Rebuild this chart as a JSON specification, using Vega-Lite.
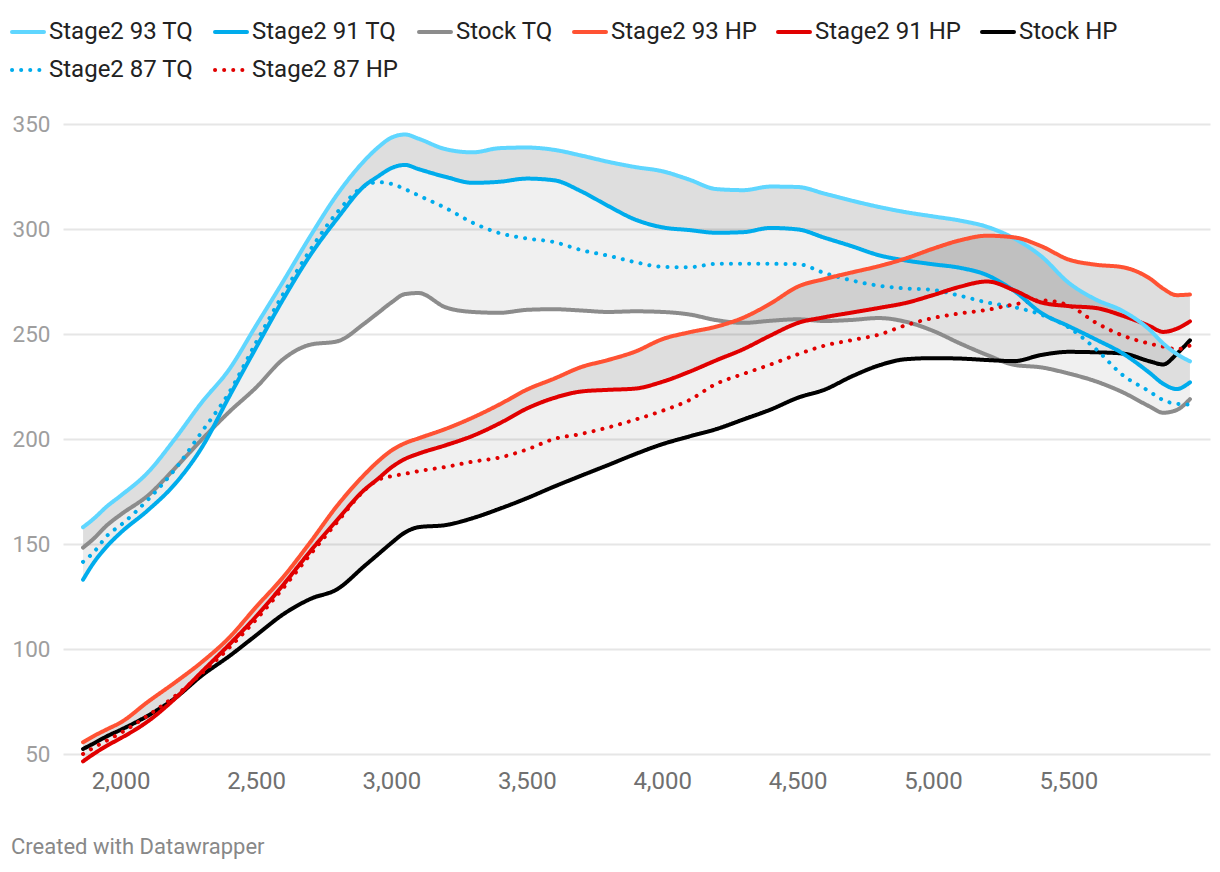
{
  "$schema": "https://vega.github.io/schema/vega-lite/v6.json",
  "width": 1147,
  "height": 630,
  "autosize": {"type": "none"},
  "padding": {"left": 63, "top": 124, "right": 10, "bottom": 118},
  "background": "white",
  "config": {"view": {"stroke": null}, "font": "Roboto"},
  "title": {"text": "Created with Datawrapper", "orient": "bottom", "anchor": "start", "frame": "group", "dx": -52, "offset": 44, "fontSize": 22, "fontWeight": "normal", "color": "#888888", "font": "Roboto"},
  "data": {"values": [
    {"rpm": 1861, "Stage2 93 TQ": 158, "Stage2 91 TQ": 133, "Stage2 87 TQ": 141.5, "Stock TQ": 148.3, "Stage2 93 HP": 55.6, "Stage2 91 HP": 46.5, "Stage2 87 HP": 50, "Stock HP": 52.4},
    {"rpm": 1900, "Stage2 93 TQ": 162, "Stage2 91 TQ": 141, "Stage2 87 TQ": 146, "Stock TQ": 152.5, "Stage2 93 HP": 58.5, "Stage2 91 HP": 50, "Stage2 87 HP": 53, "Stock HP": 55},
    {"rpm": 1950, "Stage2 93 TQ": 168, "Stage2 91 TQ": 149, "Stage2 87 TQ": 154, "Stock TQ": 159, "Stage2 93 HP": 61.8, "Stage2 91 HP": 54, "Stage2 87 HP": 56.5, "Stock HP": 58.5},
    {"rpm": 2000, "Stage2 93 TQ": 173, "Stage2 91 TQ": 155.4, "Stage2 87 TQ": 159, "Stock TQ": 164, "Stage2 93 HP": 65, "Stage2 91 HP": 57.5, "Stage2 87 HP": 60, "Stock HP": 61.5},
    {"rpm": 2100, "Stage2 93 TQ": 184, "Stage2 91 TQ": 166, "Stage2 87 TQ": 171, "Stock TQ": 173, "Stage2 93 HP": 74.8, "Stage2 91 HP": 65.5, "Stage2 87 HP": 68.3, "Stock HP": 68.2},
    {"rpm": 2200, "Stage2 93 TQ": 200, "Stage2 91 TQ": 178.5, "Stage2 87 TQ": 185.5, "Stock TQ": 186, "Stage2 93 HP": 84, "Stage2 91 HP": 76.3, "Stage2 87 HP": 77.5, "Stock HP": 76.5},
    {"rpm": 2300, "Stage2 93 TQ": 217.5, "Stage2 91 TQ": 196, "Stage2 87 TQ": 203.5, "Stock TQ": 199.8, "Stage2 93 HP": 93.8, "Stage2 91 HP": 89.2, "Stage2 87 HP": 88.5, "Stock HP": 87.4},
    {"rpm": 2400, "Stage2 93 TQ": 233, "Stage2 91 TQ": 220, "Stage2 87 TQ": 222, "Stock TQ": 212.8, "Stage2 93 HP": 105.3, "Stage2 91 HP": 102, "Stage2 87 HP": 100.5, "Stock HP": 96.5},
    {"rpm": 2500, "Stage2 93 TQ": 254, "Stage2 91 TQ": 243.5, "Stage2 87 TQ": 246, "Stock TQ": 224.5, "Stage2 93 HP": 120, "Stage2 91 HP": 115.5, "Stage2 87 HP": 114, "Stock HP": 106.5},
    {"rpm": 2600, "Stage2 93 TQ": 275, "Stage2 91 TQ": 266.5, "Stage2 87 TQ": 269, "Stock TQ": 238, "Stage2 93 HP": 134.2, "Stage2 91 HP": 130.5, "Stage2 87 HP": 129, "Stock HP": 116.5},
    {"rpm": 2700, "Stage2 93 TQ": 296.5, "Stage2 91 TQ": 287.5, "Stage2 87 TQ": 290, "Stock TQ": 244.9, "Stage2 93 HP": 150.8, "Stage2 91 HP": 146.5, "Stage2 87 HP": 145, "Stock HP": 123.8},
    {"rpm": 2800, "Stage2 93 TQ": 316.5, "Stage2 91 TQ": 305, "Stage2 87 TQ": 308, "Stock TQ": 246.5, "Stage2 93 HP": 168.3, "Stage2 91 HP": 161.5, "Stage2 87 HP": 160.5, "Stock HP": 128.5},
    {"rpm": 2900, "Stage2 93 TQ": 332.5, "Stage2 91 TQ": 320.5, "Stage2 87 TQ": 320.5, "Stock TQ": 255, "Stage2 93 HP": 183, "Stage2 91 HP": 175.8, "Stage2 87 HP": 175.5, "Stock HP": 139.5},
    {"rpm": 2950, "Stage2 93 TQ": 338.8, "Stage2 91 TQ": 325, "Stage2 87 TQ": 322.3, "Stock TQ": 260, "Stage2 93 HP": 189.3, "Stage2 91 HP": 181, "Stage2 87 HP": 180.5, "Stock HP": 145},
    {"rpm": 3000, "Stage2 93 TQ": 343.5, "Stage2 91 TQ": 329, "Stage2 87 TQ": 321.5, "Stock TQ": 265, "Stage2 93 HP": 194.5, "Stage2 91 HP": 186.5, "Stage2 87 HP": 182.3, "Stock HP": 150.5},
    {"rpm": 3050, "Stage2 93 TQ": 345, "Stage2 91 TQ": 330.5, "Stage2 87 TQ": 319, "Stock TQ": 269, "Stage2 93 HP": 198, "Stage2 91 HP": 190.5, "Stage2 87 HP": 183.4, "Stock HP": 155.5},
    {"rpm": 3100, "Stage2 93 TQ": 343, "Stage2 91 TQ": 328.5, "Stage2 87 TQ": 316, "Stock TQ": 269.5, "Stage2 93 HP": 200.3, "Stage2 91 HP": 193, "Stage2 87 HP": 184.7, "Stock HP": 158},
    {"rpm": 3200, "Stage2 93 TQ": 338, "Stage2 91 TQ": 324.8, "Stage2 87 TQ": 310, "Stock TQ": 262.7, "Stage2 93 HP": 204.8, "Stage2 91 HP": 197, "Stage2 87 HP": 186.7, "Stock HP": 159},
    {"rpm": 3300, "Stage2 93 TQ": 336.5, "Stage2 91 TQ": 322, "Stage2 87 TQ": 303, "Stock TQ": 260.5, "Stage2 93 HP": 210.2, "Stage2 91 HP": 201.5, "Stage2 87 HP": 189.2, "Stock HP": 162.3},
    {"rpm": 3400, "Stage2 93 TQ": 338.5, "Stage2 91 TQ": 322.5, "Stage2 87 TQ": 298, "Stock TQ": 260.1, "Stage2 93 HP": 216.5, "Stage2 91 HP": 207.5, "Stage2 87 HP": 191.2, "Stock HP": 166.8},
    {"rpm": 3500, "Stage2 93 TQ": 338.8, "Stage2 91 TQ": 324, "Stage2 87 TQ": 295.5, "Stock TQ": 261.5, "Stage2 93 HP": 223.5, "Stage2 91 HP": 214.5, "Stage2 87 HP": 195, "Stock HP": 171.8},
    {"rpm": 3600, "Stage2 93 TQ": 337.7, "Stage2 91 TQ": 323.2, "Stage2 87 TQ": 293.8, "Stock TQ": 261.8, "Stage2 93 HP": 228.7, "Stage2 91 HP": 219.5, "Stage2 87 HP": 200, "Stock HP": 177.3},
    {"rpm": 3700, "Stage2 93 TQ": 335, "Stage2 91 TQ": 318, "Stage2 87 TQ": 290, "Stock TQ": 261.2, "Stage2 93 HP": 234.2, "Stage2 91 HP": 222.6, "Stage2 87 HP": 202.4, "Stock HP": 182.5},
    {"rpm": 3800, "Stage2 93 TQ": 332, "Stage2 91 TQ": 311, "Stage2 87 TQ": 287.3, "Stock TQ": 260.5, "Stage2 93 HP": 237.6, "Stage2 91 HP": 223.4, "Stage2 87 HP": 205.5, "Stock HP": 187.6},
    {"rpm": 3900, "Stage2 93 TQ": 329.5, "Stage2 91 TQ": 304.5, "Stage2 87 TQ": 284.2, "Stock TQ": 260.8, "Stage2 93 HP": 241.6, "Stage2 91 HP": 224, "Stage2 87 HP": 209.2, "Stock HP": 192.8},
    {"rpm": 4000, "Stage2 93 TQ": 327.5, "Stage2 91 TQ": 300.8, "Stage2 87 TQ": 282, "Stock TQ": 260.5, "Stage2 93 HP": 247.5, "Stage2 91 HP": 227.2, "Stage2 87 HP": 213.4, "Stock HP": 197.5},
    {"rpm": 4100, "Stage2 93 TQ": 323.5, "Stage2 91 TQ": 299.5, "Stage2 87 TQ": 281.8, "Stock TQ": 259.3, "Stage2 93 HP": 250.8, "Stage2 91 HP": 232, "Stage2 87 HP": 218.5, "Stock HP": 201.2},
    {"rpm": 4200, "Stage2 93 TQ": 319, "Stage2 91 TQ": 298.2, "Stage2 87 TQ": 283.4, "Stock TQ": 256.6, "Stage2 93 HP": 253.5, "Stage2 91 HP": 237.5, "Stage2 87 HP": 226.3, "Stock HP": 204.7},
    {"rpm": 4300, "Stage2 93 TQ": 318.5, "Stage2 91 TQ": 298.5, "Stage2 87 TQ": 283.4, "Stock TQ": 255.3, "Stage2 93 HP": 257.8, "Stage2 91 HP": 242.8, "Stage2 87 HP": 231, "Stock HP": 209.3},
    {"rpm": 4400, "Stage2 93 TQ": 320.2, "Stage2 91 TQ": 300.5, "Stage2 87 TQ": 283.4, "Stock TQ": 256.3, "Stage2 93 HP": 264.5, "Stage2 91 HP": 249.3, "Stage2 87 HP": 235.5, "Stock HP": 214},
    {"rpm": 4500, "Stage2 93 TQ": 320, "Stage2 91 TQ": 299.8, "Stage2 87 TQ": 283.3, "Stock TQ": 257, "Stage2 93 HP": 272.5, "Stage2 91 HP": 255.2, "Stage2 87 HP": 240.3, "Stock HP": 219.6},
    {"rpm": 4600, "Stage2 93 TQ": 316.8, "Stage2 91 TQ": 295.8, "Stage2 87 TQ": 279, "Stock TQ": 256.2, "Stage2 93 HP": 276.2, "Stage2 91 HP": 258, "Stage2 87 HP": 244.5, "Stock HP": 223.5},
    {"rpm": 4700, "Stage2 93 TQ": 313.5, "Stage2 91 TQ": 291.8, "Stage2 87 TQ": 275.5, "Stock TQ": 256.7, "Stage2 93 HP": 279.3, "Stage2 91 HP": 260.2, "Stage2 87 HP": 247.1, "Stock HP": 229.8},
    {"rpm": 4800, "Stage2 93 TQ": 310.5, "Stage2 91 TQ": 287.5, "Stage2 87 TQ": 273, "Stock TQ": 257.6, "Stage2 93 HP": 282.3, "Stage2 91 HP": 262.4, "Stage2 87 HP": 249.7, "Stock HP": 235},
    {"rpm": 4900, "Stage2 93 TQ": 308, "Stage2 91 TQ": 285, "Stage2 87 TQ": 271.7, "Stock TQ": 255.8, "Stage2 93 HP": 286, "Stage2 91 HP": 264.8, "Stage2 87 HP": 254.2, "Stock HP": 238},
    {"rpm": 5000, "Stage2 93 TQ": 306, "Stage2 91 TQ": 283.2, "Stage2 87 TQ": 271, "Stock TQ": 251.5, "Stage2 93 HP": 290.6, "Stage2 91 HP": 268.5, "Stage2 87 HP": 257.6, "Stock HP": 238.5},
    {"rpm": 5100, "Stage2 93 TQ": 304, "Stage2 91 TQ": 281.5, "Stage2 87 TQ": 268.2, "Stock TQ": 245.5, "Stage2 93 HP": 294.6, "Stage2 91 HP": 272.5, "Stage2 87 HP": 259.8, "Stock HP": 238.3},
    {"rpm": 5200, "Stage2 93 TQ": 301, "Stage2 91 TQ": 278, "Stage2 87 TQ": 265, "Stock TQ": 240, "Stage2 93 HP": 296.8, "Stage2 91 HP": 275, "Stage2 87 HP": 261.5, "Stock HP": 237.6},
    {"rpm": 5300, "Stage2 93 TQ": 295.5, "Stage2 91 TQ": 270.5, "Stage2 87 TQ": 262.8, "Stock TQ": 235.3, "Stage2 93 HP": 296, "Stage2 91 HP": 270.8, "Stage2 87 HP": 264.1, "Stock HP": 237.1},
    {"rpm": 5400, "Stage2 93 TQ": 287, "Stage2 91 TQ": 260, "Stage2 87 TQ": 259.2, "Stock TQ": 234.1, "Stage2 93 HP": 291.8, "Stage2 91 HP": 265, "Stage2 87 HP": 266, "Stock HP": 240},
    {"rpm": 5500, "Stage2 93 TQ": 274.5, "Stage2 91 TQ": 253.8, "Stage2 87 TQ": 253.2, "Stock TQ": 231.2, "Stage2 93 HP": 285.5, "Stage2 91 HP": 263.3, "Stage2 87 HP": 263.7, "Stock HP": 241.5},
    {"rpm": 5600, "Stage2 93 TQ": 266.5, "Stage2 91 TQ": 247.5, "Stage2 87 TQ": 243, "Stock TQ": 227.5, "Stage2 93 HP": 283, "Stage2 91 HP": 262.4, "Stage2 87 HP": 255.5, "Stock HP": 241.3},
    {"rpm": 5700, "Stage2 93 TQ": 261, "Stage2 91 TQ": 240.8, "Stage2 87 TQ": 230.5, "Stock TQ": 222.3, "Stage2 93 HP": 281.8, "Stage2 91 HP": 258.7, "Stage2 87 HP": 249.3, "Stock HP": 240.7},
    {"rpm": 5800, "Stage2 93 TQ": 252, "Stage2 91 TQ": 231.5, "Stage2 87 TQ": 222.6, "Stock TQ": 215.5, "Stage2 93 HP": 276.5, "Stage2 91 HP": 253.8, "Stage2 87 HP": 245.4, "Stock HP": 237},
    {"rpm": 5850, "Stage2 93 TQ": 245.5, "Stage2 91 TQ": 226.3, "Stage2 87 TQ": 218.5, "Stock TQ": 212.5, "Stage2 93 HP": 271.6, "Stage2 91 HP": 251, "Stage2 87 HP": 244, "Stock HP": 235.5},
    {"rpm": 5900, "Stage2 93 TQ": 240.5, "Stage2 91 TQ": 223.8, "Stage2 87 TQ": 216.8, "Stock TQ": 213.8, "Stage2 93 HP": 268.5, "Stage2 91 HP": 252.5, "Stage2 87 HP": 242.8, "Stock HP": 240.5},
    {"rpm": 5949, "Stage2 93 TQ": 237, "Stage2 91 TQ": 227, "Stage2 87 TQ": 216.4, "Stock TQ": 219, "Stage2 93 HP": 268.8, "Stage2 91 HP": 256, "Stage2 87 HP": 244.5, "Stock HP": 247}
  ]},
  "encoding": {
    "x": {"field": "rpm", "type": "quantitative", "scale": {"domain": [1787, 6023], "nice": false, "zero": false},
      "axis": {"title": null, "values": [2000, 2500, 3000, 3500, 4000, 4500, 5000, 5500], "format": ",d", "domain": false, "ticks": false, "grid": false, "labelFontSize": 24, "labelColor": "#707070", "labelPadding": 15, "labelFont": "Roboto", "labelFlush": false}}
  },
  "layer": [
    {"mark": {"type": "area", "interpolate": "monotone", "color": "#000000", "opacity": 0.06},
     "encoding": {"y": {"field": "Stage2 93 TQ", "type": "quantitative", "scale": {"domain": [50, 350], "nice": false, "zero": false},
        "axis": {"title": null, "values": [50, 100, 150, 200, 250, 300, 350], "domain": false, "ticks": false, "grid": true, "gridColor": "#e6e6e6", "gridWidth": 2, "labelFontSize": 22.5, "labelColor": "#9e9e9e", "labelPadding": 13, "labelFont": "Roboto"}},
       "y2": {"field": "Stock TQ"}}},
    {"mark": {"type": "area", "interpolate": "monotone", "color": "#000000", "opacity": 0.075},
     "encoding": {"y": {"field": "Stage2 93 TQ", "type": "quantitative"}, "y2": {"field": "Stage2 91 TQ"}}},
    {"mark": {"type": "area", "interpolate": "monotone", "color": "#000000", "opacity": 0.06},
     "encoding": {"y": {"field": "Stage2 93 HP", "type": "quantitative"}, "y2": {"field": "Stock HP"}}},
    {"mark": {"type": "area", "interpolate": "monotone", "color": "#000000", "opacity": 0.075},
     "encoding": {"y": {"field": "Stage2 93 HP", "type": "quantitative"}, "y2": {"field": "Stage2 91 HP"}}},
    {"transform": [{"fold": ["Stock TQ", "Stock HP", "Stage2 87 TQ", "Stage2 87 HP", "Stage2 91 TQ", "Stage2 91 HP", "Stage2 93 TQ", "Stage2 93 HP"], "as": ["series", "value"]}],
     "mark": {"type": "line", "interpolate": "monotone", "strokeWidth": 4, "strokeCap": "round", "strokeJoin": "round"},
     "encoding": {
       "y": {"field": "value", "type": "quantitative"},
       "color": {"field": "series", "type": "nominal",
         "scale": {"domain": ["Stage2 93 TQ", "Stage2 91 TQ", "Stock TQ", "Stage2 93 HP", "Stage2 91 HP", "Stock HP", "Stage2 87 TQ", "Stage2 87 HP"],
                   "range": ["#5fd6ff", "#00acec", "#8c8c8c", "#ff5233", "#e10000", "#000000", "#00acec", "#e10000"]},
         "legend": {"title": null, "orient": "none", "legendX": -53, "legendY": -110, "direction": "horizontal", "columns": 6, "symbolType": "stroke", "symbolSize": 1024, "symbolStrokeWidth": 4, "labelFontSize": 24, "labelFont": "Roboto", "labelColor": "#222222", "labelOffset": 3, "columnPadding": 13, "rowPadding": 8, "gridAlign": "each", "padding": 0, "labelLimit": 400, "encode": {"symbols": {"update": {"strokeCap": {"value": "round"}}}}}},
       "strokeDash": {"field": "series", "type": "nominal",
         "scale": {"domain": ["Stage2 93 TQ", "Stage2 91 TQ", "Stock TQ", "Stage2 93 HP", "Stage2 91 HP", "Stock HP", "Stage2 87 TQ", "Stage2 87 HP"],
                   "range": [[1, 0], [1, 0], [1, 0], [1, 0], [1, 0], [1, 0], [0.1, 9], [0.1, 9]]},
         "legend": {"title": null, "orient": "none", "legendX": -53, "legendY": -110, "direction": "horizontal", "columns": 6, "symbolType": "stroke", "symbolSize": 1024, "symbolStrokeWidth": 4, "labelFontSize": 24, "labelFont": "Roboto", "labelColor": "#222222", "labelOffset": 3, "columnPadding": 13, "rowPadding": 8, "gridAlign": "each", "padding": 0, "labelLimit": 400, "encode": {"symbols": {"update": {"strokeCap": {"value": "round"}}}}}}
     }}
  ]
}
